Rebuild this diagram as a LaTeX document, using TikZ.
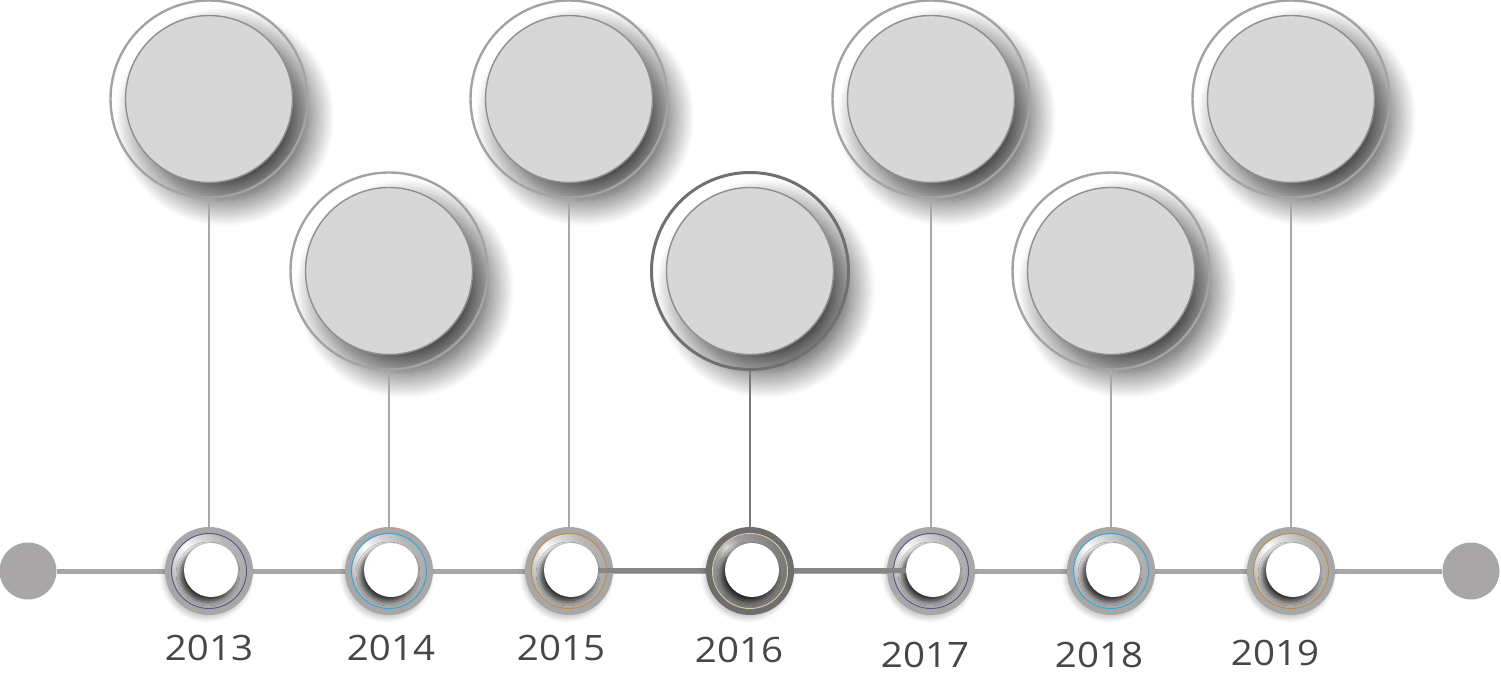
\documentclass[tikz,border=0pt]{standalone}
\usepackage{fontspec}
\setmainfont{Open Sans}
\usetikzlibrary{shadows.blur}
\definecolor{bigringc}{HTML}{A3A3A3}
\definecolor{bigringdark}{HTML}{707070}
\definecolor{discfill}{HTML}{D7D7D7}
\definecolor{discline}{HTML}{8F8F8F}
\definecolor{connc}{HTML}{A9A9A9}
\definecolor{conndark}{HTML}{7A7A7A}
\definecolor{linec}{HTML}{A8A8A8}
\definecolor{linedark}{HTML}{868686}
\definecolor{dotc}{HTML}{A8A6A7}
\definecolor{labelc}{HTML}{474747}
\definecolor{ringbasec}{HTML}{A7A7A7}
\definecolor{ringbasedark}{HTML}{6E6E6E}
\definecolor{accpurple}{HTML}{55558A}
\definecolor{acccyan}{HTML}{2AA9E0}
\definecolor{accorange}{HTML}{C68A45}
\definecolor{accbeige}{HTML}{DCCCA6}
\pgfdeclareradialshading{silverbevel}{\pgfpoint{-16bp}{16bp}}{color(0bp)=(white); color(7bp)=(white!90!black); color(22bp)=(white!72!black); color(45bp)=(white!63!black); color(75bp)=(white!58!black)}
\pgfdeclareradialshading{darkbevel}{\pgfpoint{-16bp}{16bp}}{color(0bp)=(white!85!black); color(9bp)=(white!62!black); color(28bp)=(white!50!black); color(50bp)=(white!42!black); color(75bp)=(white!36!black)}
\tikzset{
  bigring/.style={circle, draw=bigringc, line width=2.4pt, minimum size=197pt, inner sep=0pt},
  bigdisc/.style={circle, fill=discfill, draw=discline, line width=1.4pt, minimum size=167pt, inner sep=0pt,
    blur shadow={shadow xshift=16pt, shadow yshift=-18pt, shadow blur radius=26pt, shadow blur steps=24, shadow opacity=75}},
  conn/.style={draw=connc, line width=2pt},
  tline/.style={draw=linec, line width=5pt},
  enddot/.style={circle, fill=dotc, minimum size=57pt, inner sep=0pt},
  yearlabel/.style={font=\fontsize{35}{35}\selectfont, text=labelc, inner sep=0pt, xscale=1.1},
  ringbase/.style={circle, minimum size=88pt, inner sep=0pt,
    blur shadow={shadow xshift=-2pt, shadow yshift=-4pt, shadow blur radius=4pt, shadow opacity=20}},
  ringhole/.style={circle, fill=white, minimum size=54pt, inner sep=0pt,
    blur shadow={shadow xshift=-3pt, shadow yshift=-4pt, shadow blur radius=5pt, shadow blur steps=8, shadow opacity=80}}
}
% #1 name, #2 x, #3 base colour, #4 shading, #5 accent
\newcommand\yearring[5]{%
  \node[ringbase, fill=#3] (#1) at (#2,118) {};
  \shade[shading=#4] (#2,118) circle[radius=37pt];
  \draw[#5, line width=0.9pt] (#2,118) circle[radius=37.5pt];
  \node[ringhole] (#1h) at (#2+2,119) {};
}
\begin{document}
\begin{tikzpicture}[x=1pt,y=1pt]
\useasboundingbox (0,0) rectangle (1501,689);
% timeline
\node[enddot] (L) at (28,118) {};
\node[enddot] (R) at (1471,118) {};
\draw[tline] (L) -- (R);
% big circles
\node[bigdisc] (d1) at (209,590) {};
\node[bigring] (b1) at (209,590) {};
\node[bigdisc] (d2) at (389,418) {};
\node[bigring] (b2) at (389,418) {};
\node[bigdisc] (d3) at (569,590) {};
\node[bigring] (b3) at (569,590) {};
\node[bigdisc] (d4) at (750,418) {};
\node[bigring, draw=bigringdark, line width=3pt] (b4) at (750,418) {};
\node[bigdisc] (d5) at (931,590) {};
\node[bigring] (b5) at (931,590) {};
\node[bigdisc] (d6) at (1111,418) {};
\node[bigring] (b6) at (1111,418) {};
\node[bigdisc] (d7) at (1291,590) {};
\node[bigring] (b7) at (1291,590) {};
% connector ends at the small rings
\coordinate (s1) at (209,162);
\coordinate (s2) at (389,162);
\coordinate (s3) at (569,162);
\coordinate (s4) at (750,162);
\coordinate (s5) at (931,162);
\coordinate (s6) at (1111,162);
\coordinate (s7) at (1291,162);
\draw[conn] (b1.south) -- (s1);
\draw[conn] (b2.south) -- (s2);
\draw[conn] (b3.south) -- (s3);
\draw[conn, draw=conndark, line width=2.4pt] (b4.south) -- (s4);
\draw[conn] (b5.south) -- (s5);
\draw[conn] (b6.south) -- (s6);
\draw[conn] (b7.south) -- (s7);
\yearring{r1}{209}{ringbasec}{silverbevel}{accpurple}
\yearring{r2}{389}{ringbasec}{silverbevel}{acccyan}
\yearring{r3}{569}{ringbasec}{silverbevel}{accorange}
\yearring{r5}{931}{ringbasec}{silverbevel}{accpurple}
\yearring{r6}{1111}{ringbasec}{silverbevel}{acccyan}
\yearring{r7}{1291}{ringbasec}{silverbevel}{accorange}
\draw[draw=linedark, line width=5pt] (r3h.east) -- (r5h.west);
\yearring{r4}{750}{ringbasedark}{darkbevel}{accbeige}
% labels
\node[yearlabel] (t1) at (209,41) {2013};
\node[yearlabel] (t2) at (391,41) {2014};
\node[yearlabel] (t3) at (561,41) {2015};
\node[yearlabel] (t4) at (739,39) {2016};
\node[yearlabel] (t5) at (925,34) {2017};
\node[yearlabel] (t6) at (1099,34) {2018};
\node[yearlabel] (t7) at (1275,36) {2019};
\end{tikzpicture}
\end{document}
